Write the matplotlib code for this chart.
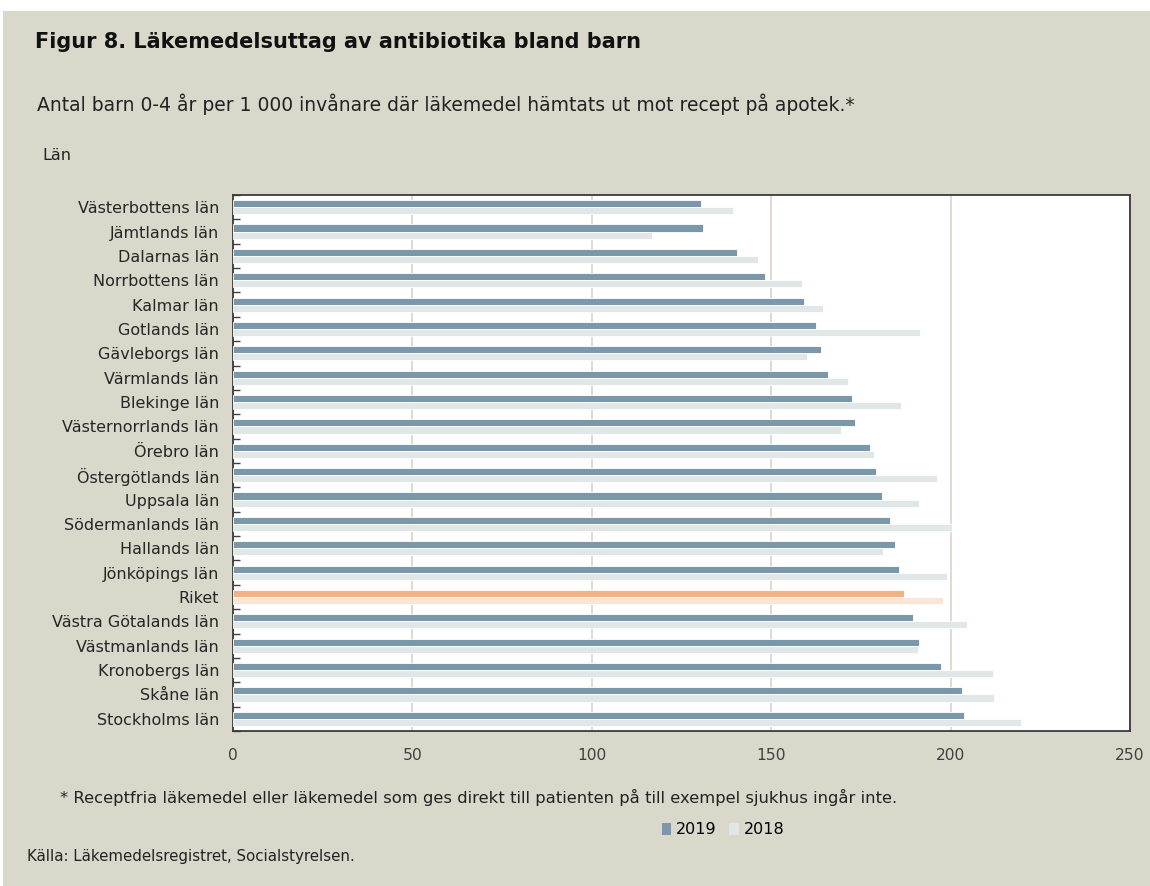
import numpy as np
import matplotlib.pyplot as plt
from matplotlib.patches import Rectangle, Patch

plt.rcParams['font.family'] = ['DejaVu Sans']

# Data
regions = ['Västerbottens län', 'Jämtlands län', 'Dalarnas län', 'Norrbottens län',
           'Kalmar län', 'Gotlands län', 'Gävleborgs län', 'Värmlands län',
           'Blekinge län', 'Västernorrlands län', 'Örebro län', 'Östergötlands län',
           'Uppsala län', 'Södermanlands län', 'Hallands län', 'Jönköpings län',
           'Riket', 'Västra Götalands län', 'Västmanlands län', 'Kronobergs län',
           'Skåne län', 'Stockholms län']
values_2019 = [130.4, 131.1, 140.4, 148.4, 159.2, 162.6, 163.9, 165.9, 172.5, 173.4,
               177.5, 179.2, 180.9, 183.2, 184.5, 185.5, 187.1, 189.4, 191.1, 197.4,
               203.1, 203.7]
values_2018 = [139.4, 116.8, 146.3, 158.6, 164.5, 191.5, 160.0, 171.5, 186.2, 169.5,
               178.6, 196.1, 191.1, 200.4, 181.2, 199.1, 197.8, 204.7, 190.8, 211.7,
               212.0, 219.6]
xticks = [0, 50, 100, 150, 200, 250]

bg = '#DAD7CB'
c19, c18 = '#7B98AB', '#E1E6E6'
r19, r18 = '#F4B183', '#FBE5D6'

fig = plt.figure(figsize=(11.5, 8.86), dpi=100)
fig.patch.set_facecolor('white')
fig.add_artist(Rectangle((3 / 1150, 0), 1, 1 - 11 / 886, transform=fig.transFigure,
                         facecolor=bg, edgecolor='none', zorder=-10))

ax = fig.add_axes([233 / 1150, 1 - 731 / 886, (1130 - 233) / 1150, (731 - 195) / 886])
ax.set_facecolor('white')

y = np.arange(len(regions))
h = 0.29
cols19 = [r19 if r == 'Riket' else c19 for r in regions]
cols18 = [r18 if r == 'Riket' else c18 for r in regions]
ax.barh(y - h / 2, values_2019, height=h, color=cols19, edgecolor='white', linewidth=0.6, zorder=3)
ax.barh(y + h / 2, values_2018, height=h, color=cols18, edgecolor='white', linewidth=0.6, zorder=3)

ax.set_xlim(0, 250)
ax.set_ylim(len(regions) - 0.5, -0.5)
ax.set_xticks(xticks)
ax.set_xticklabels([str(t) for t in xticks], fontsize=11.2, color='#404040')
ax.tick_params(axis='x', length=0, pad=12)
ax.set_yticks(y)
ax.set_yticklabels(regions, fontsize=11.5, color='#262626')
ax.tick_params(axis='y', length=0, pad=10)
ax.set_yticks(np.arange(len(regions) + 1) - 0.5, minor=True)
ax.tick_params(axis='y', which='minor', length=5, width=1, direction='in', color='#404040')
ax.grid(axis='x', color='#D9D4C7', linewidth=1.2, zorder=0)
for s in ax.spines.values():
    s.set_color('#3A3A3A')
    s.set_linewidth(1.3)

fig.text(35 / 1150, 1 - 42 / 886, 'Figur 8. Läkemedelsuttag av antibiotika bland barn',
         fontsize=15, fontweight='bold', color='#111111', va='center')
fig.text(37 / 1150, 1 - 104 / 886,
         'Antal barn 0-4 år per 1 000 invånare där läkemedel hämtats ut mot recept på apotek.*',
         fontsize=13.5, color='#222222', va='center')
fig.text(42 / 1150, 1 - 156 / 886, 'Län', fontsize=11.5, color='#222222', va='center')
fig.text(60 / 1150, 1 - 797 / 886,
         '* Receptfria läkemedel eller läkemedel som ges direkt till patienten på till exempel sjukhus ingår inte.',
         fontsize=11.8, color='#222222', va='center')
fig.text(27 / 1150, 1 - 857 / 886, 'Källa: Läkemedelsregistret, Socialstyrelsen.',
         fontsize=10.8, color='#222222', va='center')

handles = [Patch(facecolor=c19, label='2019'), Patch(facecolor=c18, label='2018')]
fig.legend(handles=handles, loc='center', bbox_to_anchor=(723 / 1150, 1 - 830 / 886),
           ncol=2, frameon=False, fontsize=11.5, handlelength=0.6, handleheight=0.8,
           handletextpad=0.3, columnspacing=0.8)

fig.savefig('out.png', dpi=100, facecolor=fig.get_facecolor())
